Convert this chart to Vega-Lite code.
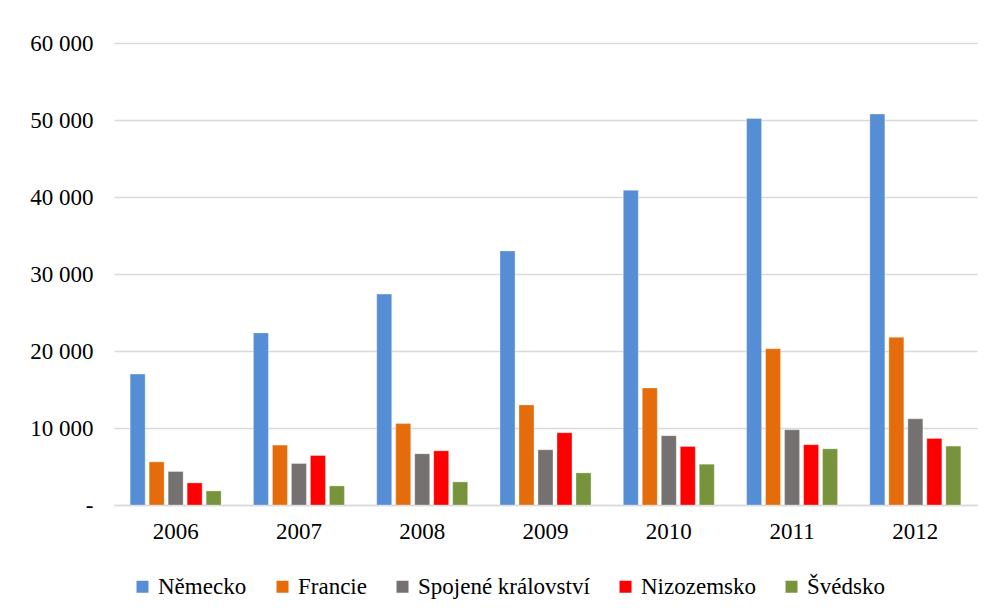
{
  "$schema": "https://vega.github.io/schema/vega-lite/v6.json",
  "width": 863,
  "height": 462,
  "autosize": {"type": "none"},
  "padding": {"left": 114, "top": 43, "right": 17, "bottom": 110},
  "background": "white",
  "data": {
    "values": [
      {"year": "2006", "country": "Německo", "value": 17000},
      {"year": "2006", "country": "Francie", "value": 5600},
      {"year": "2006", "country": "Spojené království", "value": 4350},
      {"year": "2006", "country": "Nizozemsko", "value": 2870},
      {"year": "2006", "country": "Švédsko", "value": 1830},
      {"year": "2007", "country": "Německo", "value": 22350},
      {"year": "2007", "country": "Francie", "value": 7780},
      {"year": "2007", "country": "Spojené království", "value": 5390},
      {"year": "2007", "country": "Nizozemsko", "value": 6430},
      {"year": "2007", "country": "Švédsko", "value": 2480},
      {"year": "2008", "country": "Německo", "value": 27390},
      {"year": "2008", "country": "Francie", "value": 10570},
      {"year": "2008", "country": "Spojené království", "value": 6650},
      {"year": "2008", "country": "Nizozemsko", "value": 7040},
      {"year": "2008", "country": "Švédsko", "value": 3000},
      {"year": "2009", "country": "Německo", "value": 33000},
      {"year": "2009", "country": "Francie", "value": 13000},
      {"year": "2009", "country": "Spojené království", "value": 7170},
      {"year": "2009", "country": "Nizozemsko", "value": 9390},
      {"year": "2009", "country": "Švédsko", "value": 4170},
      {"year": "2010", "country": "Německo", "value": 40870},
      {"year": "2010", "country": "Francie", "value": 15200},
      {"year": "2010", "country": "Spojené království", "value": 9000},
      {"year": "2010", "country": "Nizozemsko", "value": 7600},
      {"year": "2010", "country": "Švédsko", "value": 5300},
      {"year": "2011", "country": "Německo", "value": 50200},
      {"year": "2011", "country": "Francie", "value": 20300},
      {"year": "2011", "country": "Spojené království", "value": 9780},
      {"year": "2011", "country": "Nizozemsko", "value": 7830},
      {"year": "2011", "country": "Švédsko", "value": 7300},
      {"year": "2012", "country": "Německo", "value": 50780},
      {"year": "2012", "country": "Francie", "value": 21780},
      {"year": "2012", "country": "Spojené království", "value": 11200},
      {"year": "2012", "country": "Nizozemsko", "value": 8650},
      {"year": "2012", "country": "Švédsko", "value": 7650}
    ]
  },
  "mark": {"type": "bar", "stroke": "white", "strokeOpacity": 0.4, "strokeWidth": 0.8},
  "encoding": {
    "x": {
      "field": "year",
      "type": "nominal",
      "scale": {"paddingInner": 0.262, "paddingOuter": 0.131},
      "axis": {
        "title": null,
        "labelAngle": 0,
        "ticks": false,
        "domainColor": "#d9d9d9",
        "domainWidth": 1.5,
        "labelPadding": 15,
        "labelFontSize": 23,
        "labelColor": "#000000"
      }
    },
    "xOffset": {
      "field": "country",
      "type": "nominal",
      "sort": ["Německo", "Francie", "Spojené království", "Nizozemsko", "Švédsko"],
      "scale": {"paddingInner": 0.21, "paddingOuter": 0}
    },
    "y": {
      "field": "value",
      "type": "quantitative",
      "scale": {"domain": [0, 60000]},
      "axis": {
        "title": null,
        "values": [0, 10000, 20000, 30000, 40000, 50000, 60000],
        "labelExpr": "datum.value == 0 ? '-' : replace(format(datum.value, ','), ',', ' ')",
        "ticks": false,
        "domain": false,
        "gridColor": "#d9d9d9",
        "gridWidth": 1.5,
        "labelPadding": 21,
        "labelFontSize": 23,
        "labelColor": "#000000"
      }
    },
    "color": {
      "field": "country",
      "type": "nominal",
      "sort": ["Německo", "Francie", "Spojené království", "Nizozemsko", "Švédsko"],
      "scale": {
        "domain": ["Německo", "Francie", "Spojené království", "Nizozemsko", "Švédsko"],
        "range": ["#558ed5", "#e46c0a", "#767171", "#ff0000", "#77933c"]
      },
      "legend": {
        "title": null,
        "orient": "none",
        "legendX": 17,
        "legendY": 532,
        "direction": "horizontal",
        "columns": 5,
        "columnPadding": 24,
        "symbolType": "square",
        "symbolSize": 144,
        "symbolStrokeWidth": 0,
        "labelOffset": 4,
        "labelFontSize": 23,
        "labelColor": "#000000",
        "labelLimit": 400
      }
    }
  },
  "config": {
    "font": "Liberation Serif",
    "axis": {"labelFont": "Liberation Serif"},
    "legend": {"labelFont": "Liberation Serif"},
    "view": {"stroke": null}
  }
}
